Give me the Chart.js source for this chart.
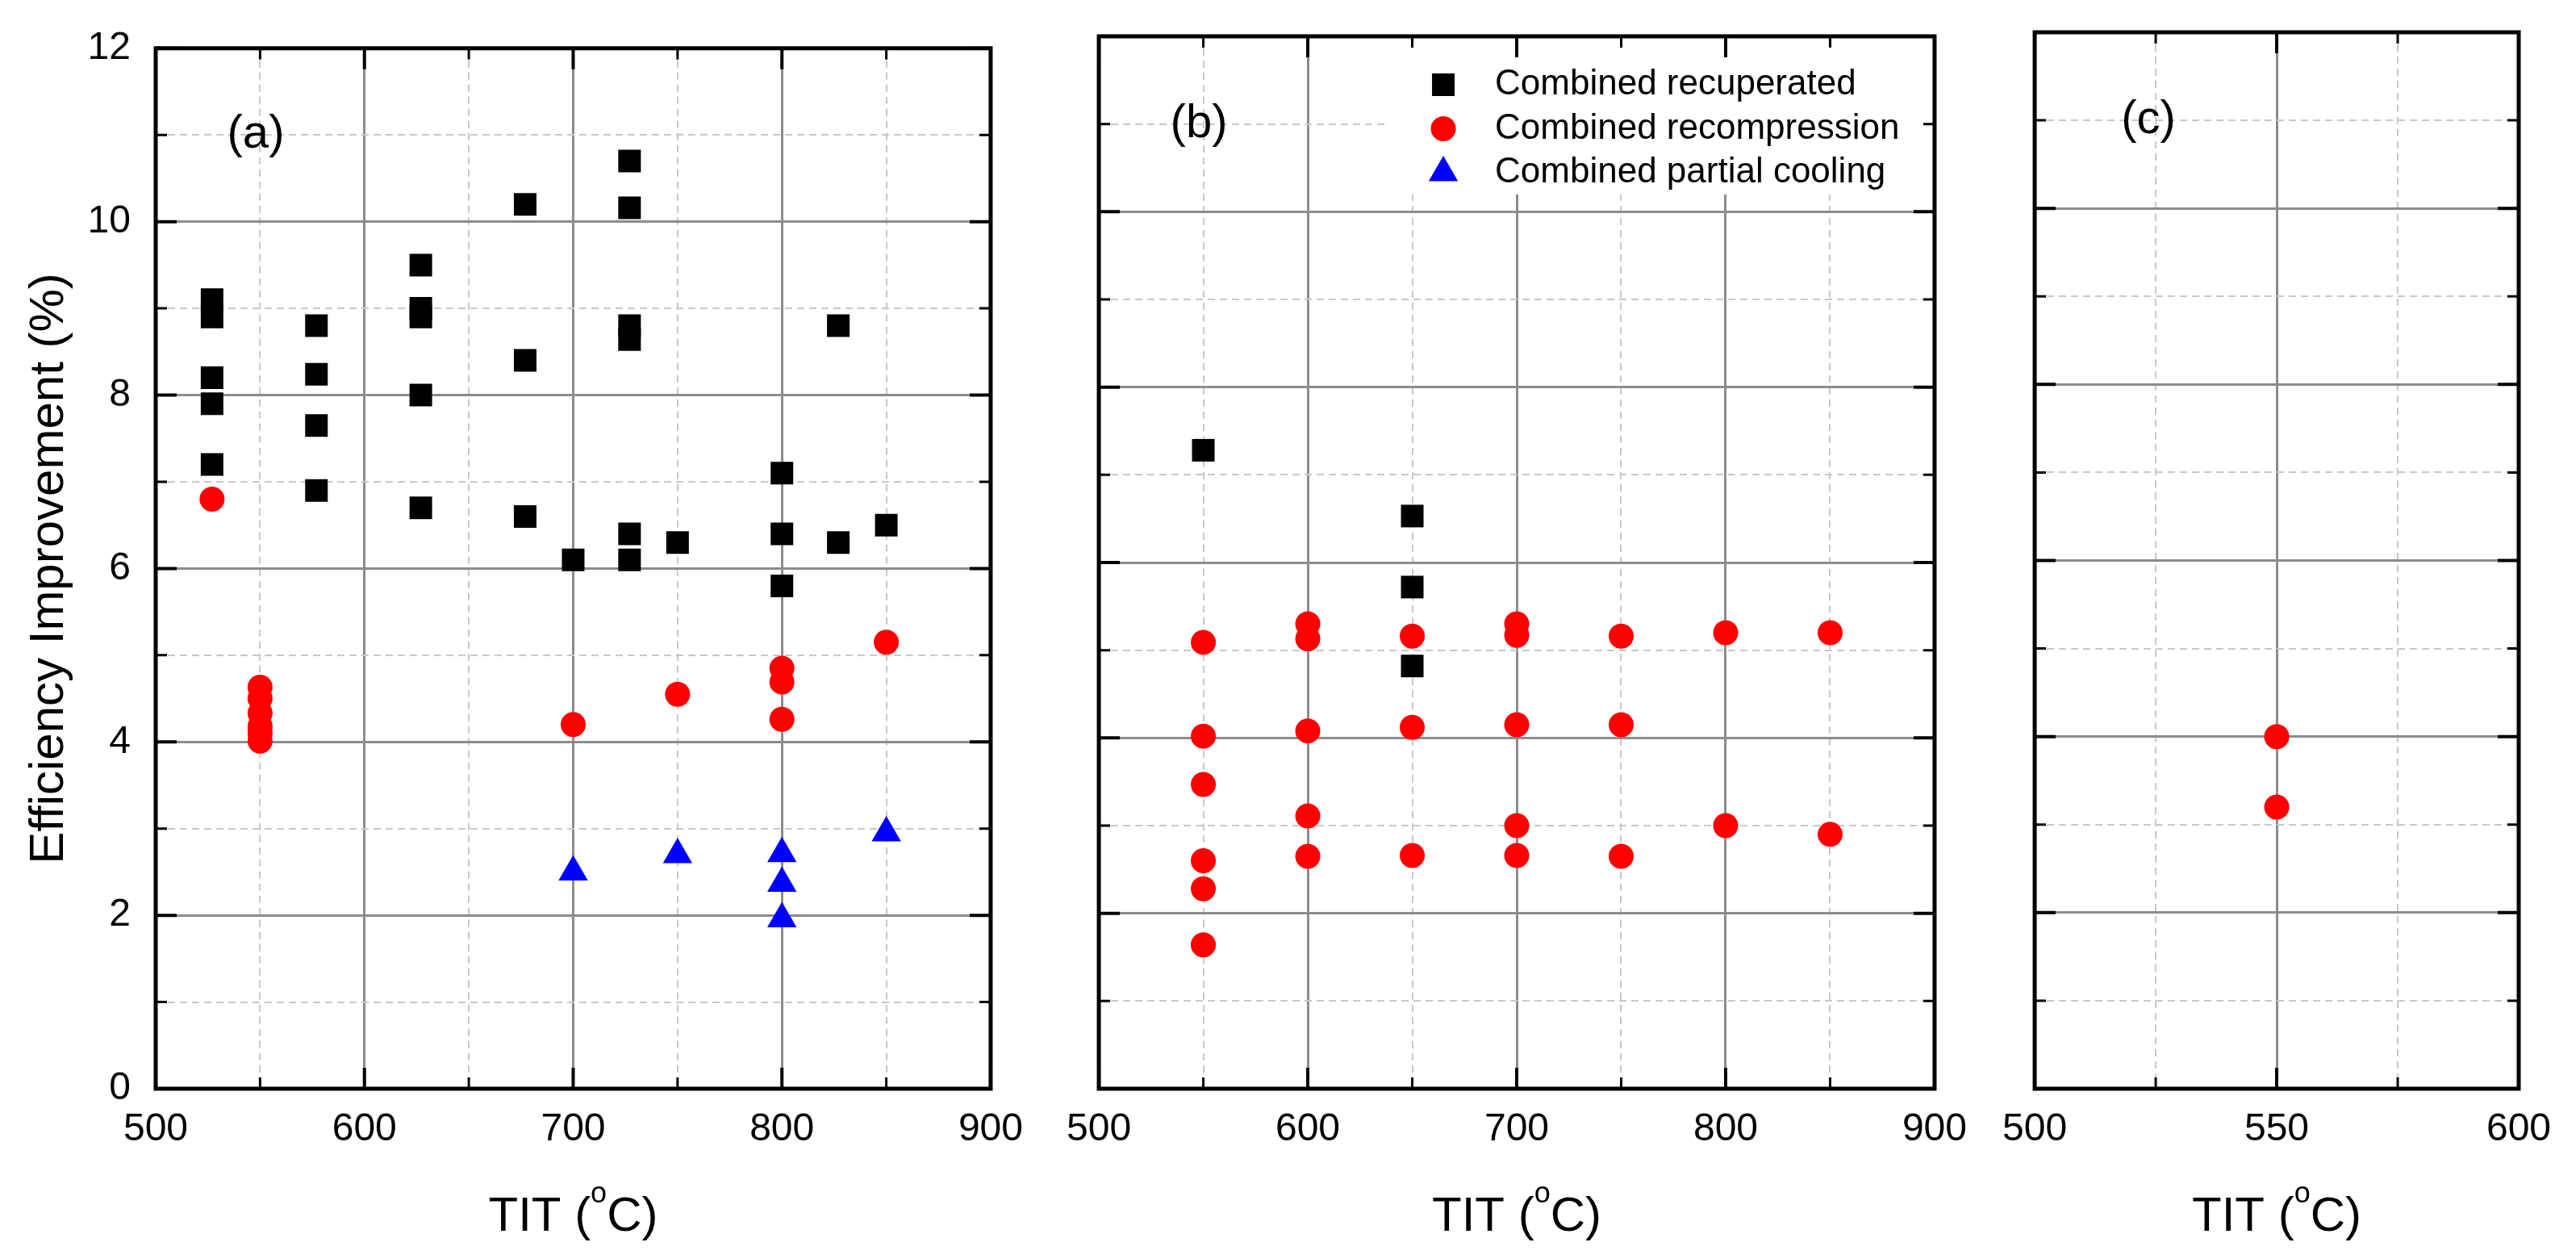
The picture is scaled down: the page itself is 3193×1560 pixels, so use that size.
<!DOCTYPE html>
<html>
<head>
<meta charset="utf-8">
<script src="https://cdn.jsdelivr.net/npm/chart.js@4.4.0/dist/chart.umd.min.js"></script>
<style>
  html, body { margin: 0; padding: 0; background: #fff; }
  #wrap { position: relative; width: 3193px; height: 1560px; overflow: hidden; }
  canvas { position: absolute; top: 0; }
</style>
</head>
<body>
<div id="wrap">
  <canvas id="chartA" width="1290" height="1560" style="left:0px"></canvas>
  <canvas id="chartB" width="1160" height="1560" style="left:1300px"></canvas>
  <canvas id="chartC" width="733" height="1560" style="left:2460px"></canvas>
</div>
<script>
// Series names and axis texts
const seriesNames = ['Combined recuperated', 'Combined recompression', 'Combined partial cooling'];
const yTitle = 'Efficiency Improvement (%)';
const xTitleParts = ['TIT (', 'o', 'C)'];
const panelTags = ['(a)', '(b)', '(c)'];

// Panel (a)
const recupA_tit = [527, 527, 527, 527, 527, 577, 577, 577, 577, 627, 627, 627, 627, 627, 677, 677, 677, 700, 727, 727, 727, 727, 727, 727, 750, 800, 800, 800, 827, 827, 850];
const recupA_eff = [9.1, 8.9, 8.2, 7.9, 7.2, 8.8, 8.24, 7.65, 6.9, 9.5, 9.0, 8.9, 8.0, 6.7, 10.2, 8.4, 6.6, 6.1, 10.7, 10.16, 8.8, 8.64, 6.4, 6.1, 6.3, 7.1, 6.4, 5.8, 8.8, 6.3, 6.5];
const recompA_tit = [527, 550, 550, 550, 550, 550, 550, 700, 750, 800, 800, 800, 850];
const recompA_eff = [6.8, 4.63, 4.5, 4.33, 4.18, 4.1, 4.01, 4.2, 4.55, 4.85, 4.69, 4.26, 5.15];
const partA_tit = [700, 750, 800, 800, 800, 850];
const partA_eff = [2.5, 2.7, 2.71, 2.37, 1.96, 2.95];

// Panel (b)
const recupB_tit = [550, 650, 650, 650];
const recupB_eff = [7.28, 6.53, 5.72, 4.82];
const recompB_tit = [550, 550, 550, 550, 550, 550, 600, 600, 600, 600, 600, 650, 650, 650, 700, 700, 700, 700, 700, 750, 750, 750, 800, 800, 850, 850];
const recompB_eff = [5.09, 4.02, 3.47, 2.6, 2.28, 1.64, 5.3, 5.13, 4.08, 3.11, 2.65, 5.16, 4.12, 2.66, 5.3, 5.17, 4.15, 3.0, 2.66, 5.16, 4.15, 2.65, 5.2, 3.0, 5.2, 2.9];

// Panel (c)
const recompC_tit = [550, 550];
const recompC_eff = [4.0, 3.2];

const FONT = "'Liberation Sans', Arial, Helvetica, sans-serif";
Chart.defaults.font.family = FONT;
Chart.defaults.color = '#000';

function pts(xs, ys) {
    return xs.map((x, i) => ({ x: x, y: ys[i] }));
}

function makeSets(recup, recomp, part) {
    return [
        { label: seriesNames[0], data: recup, pointStyle: 'rect', pointRadius: 19.8, backgroundColor: '#000000' },
        { label: seriesNames[1], data: recomp, pointStyle: 'circle', pointRadius: 15.5, backgroundColor: '#ff0000' },
        { label: seriesNames[2], data: part, pointStyle: 'triangle', pointRadius: 21, backgroundColor: '#0000ff' }
    ].map(ds => Object.assign(ds, {
        showLine: false, borderWidth: 0, pointBorderWidth: 0, pointHoverRadius: ds.pointRadius
    }));
}

// Frame, inward ticks, panel tag, x title and legend
const decoPlugin = {
    id: 'deco',
    afterDraw(chart, args, o) {
        const ctx = chart.ctx;
        const a = chart.chartArea;
        const xs = chart.scales.x, ys = chart.scales.y;
        ctx.save();

        // legend box hides the grid behind it
        if (o.legend) {
            ctx.fillStyle = '#fff';
            ctx.fillRect(a.left + o.legendBoxX, a.top, a.right - a.left - o.legendBoxX, o.legendBoxH);
        }

        ctx.strokeStyle = '#000';
        xs.ticks.forEach(t => {
            const major = t.value % o.xMajor === 0;
            const len = major ? 26 : 14;
            const px = xs.getPixelForValue(t.value);
            ctx.lineWidth = major ? 4 : 3;
            ctx.beginPath();
            ctx.moveTo(px, a.bottom); ctx.lineTo(px, a.bottom - len);
            ctx.moveTo(px, a.top); ctx.lineTo(px, a.top + len);
            ctx.stroke();
        });
        ys.ticks.forEach(t => {
            const major = t.value % 2 === 0;
            const len = major ? 26 : 14;
            const py = ys.getPixelForValue(t.value);
            ctx.lineWidth = major ? 4 : 3;
            ctx.beginPath();
            ctx.moveTo(a.left, py); ctx.lineTo(a.left + len, py);
            ctx.moveTo(a.right, py); ctx.lineTo(a.right - len, py);
            ctx.stroke();
        });
        ctx.lineWidth = 5;
        ctx.strokeRect(a.left, a.top, a.right - a.left, a.bottom - a.top);

        // panel tag
        ctx.fillStyle = '#000';
        ctx.font = '58px ' + FONT;
        ctx.textAlign = 'center';
        ctx.textBaseline = 'middle';
        ctx.fillText(o.tag, a.left + o.tagDx, ys.getPixelForValue(11) + o.tagDy);

        // x title with superscript o
        ctx.textAlign = 'left';
        ctx.textBaseline = 'alphabetic';
        ctx.font = '60px ' + FONT;
        const w1 = ctx.measureText(xTitleParts[0]).width;
        const w3 = ctx.measureText(xTitleParts[2]).width;
        ctx.font = '36px ' + FONT;
        const w2 = ctx.measureText(xTitleParts[1]).width;
        let sx = (a.left + a.right) / 2 - (w1 + w2 + w3) / 2;
        const by = 1525;
        ctx.font = '60px ' + FONT;
        ctx.fillText(xTitleParts[0], sx, by); sx += w1;
        ctx.font = '36px ' + FONT;
        ctx.fillText(xTitleParts[1], sx, by - 35); sx += w2;
        ctx.font = '60px ' + FONT;
        ctx.fillText(xTitleParts[2], sx, by);

        // legend
        if (o.legend) {
            chart.data.datasets.forEach((ds, i) => {
                const yy = a.top + o.legendY + i * o.legendGap;
                ctx.fillStyle = ds.backgroundColor;
                Chart.helpers.drawPoint(ctx, { pointStyle: ds.pointStyle, radius: ds.pointRadius, rotation: 0, borderWidth: 0 }, a.left + o.legendSymX, yy);
                ctx.fillStyle = '#000';
                ctx.font = '44px ' + FONT;
                ctx.textAlign = 'left';
                ctx.textBaseline = 'middle';
                ctx.fillText(ds.label, a.left + o.legendTextX, yy);
            });
        }
        ctx.restore();
    }
};

function gridFor(isMajor) {
    return {
        drawTicks: false,
        color: c => (c.tick && isMajor(c.tick.value)) ? '#8c8c8c' : '#c8c8c8',
        lineWidth: c => (c.tick && isMajor(c.tick.value)) ? 3 : 2
    };
}
function borderFor(isMajor) {
    return {
        display: false,
        dash: c => (c.tick && isMajor(c.tick.value)) ? [] : [9, 6]
    };
}

function panel(id, cfg) {
    const xMajor = v => v % cfg.xMajor === 0;
    const yMajor = v => v % 2 === 0;
    return new Chart(document.getElementById(id), {
        type: 'scatter',
        data: { datasets: cfg.datasets },
        options: {
            responsive: false,
            animation: false,
            events: [],
            layout: { padding: cfg.pad },
            plugins: {
                legend: { display: false },
                tooltip: { enabled: false },
                deco: cfg.deco
            },
            scales: {
                x: {
                    type: 'linear',
                    min: cfg.xMin,
                    max: cfg.xMax,
                    afterFit: s => { s.height = 211; },
                    ticks: {
                        stepSize: cfg.xStep,
                        autoSkip: false,
                        maxRotation: 0,
                        padding: 22,
                        font: { size: 48 },
                        callback: v => xMajor(v) ? v : ''
                    },
                    grid: gridFor(xMajor),
                    border: borderFor(xMajor)
                },
                y: {
                    type: 'linear',
                    min: 0,
                    max: 12,
                    afterFit: s => { s.width = cfg.yWidth; },
                    ticks: {
                        display: cfg.showY,
                        stepSize: 1,
                        autoSkip: false,
                        padding: 31,
                        font: { size: 48 },
                        callback: v => yMajor(v) ? v : ''
                    },
                    title: {
                        display: cfg.showY,
                        text: yTitle,
                        font: { size: 60 },
                        padding: { top: 25, bottom: 0 }
                    },
                    grid: gridFor(yMajor),
                    border: borderFor(yMajor)
                }
            }
        },
        plugins: [decoPlugin]
    });
}

panel('chartA', {
    datasets: makeSets(pts(recupA_tit, recupA_eff), pts(recompA_tit, recompA_eff), pts(partA_tit, partA_eff)),
    pad: { left: 0, right: 53, top: 55, bottom: 0 },
    yWidth: 193, showY: true,
    xMin: 500, xMax: 900, xStep: 50, xMajor: 100,
    deco: { xMajor: 100, tag: panelTags[0], tagDx: 124, tagDy: 0 }
});

panel('chartB', {
    datasets: makeSets(pts(recupB_tit, recupB_eff), pts(recompB_tit, recompB_eff), []),
    pad: { left: 52, right: 58, top: 45, bottom: 0 },
    yWidth: 0, showY: false,
    xMin: 500, xMax: 900, xStep: 50, xMajor: 100,
    deco: { xMajor: 100, tag: panelTags[1], tagDx: 124, tagDy: 0,
            legend: true, legendSymX: 427, legendTextX: 491, legendY: 60, legendGap: 54.5,
            legendBoxX: 357, legendBoxH: 196 }
});

panel('chartC', {
    datasets: makeSets([], pts(recompC_tit, recompC_eff), []),
    pad: { left: 60, right: 71, top: 40, bottom: 0 },
    yWidth: 0, showY: false,
    xMin: 500, xMax: 600, xStep: 25, xMajor: 50,
    deco: { xMajor: 50, tag: panelTags[2], tagDx: 141, tagDy: 0 }
});
</script>
</body>
</html>
